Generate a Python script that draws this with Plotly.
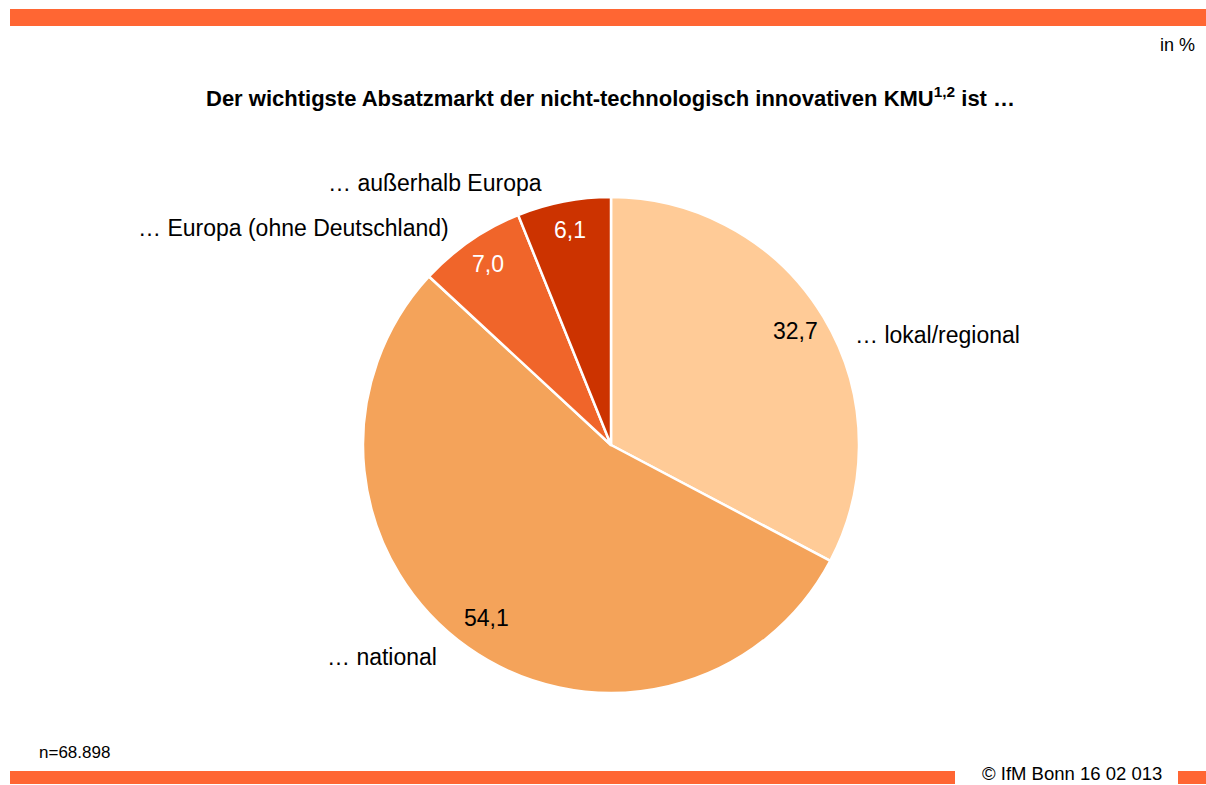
import math
import plotly.graph_objects as go

# data
labels = ['… lokal/regional', '… national', '… Europa (ohne Deutschland)', '… außerhalb Europa']
values = [32.7, 54.1, 7.0, 6.1]
value_text = ['32,7', '54,1', '7,0', '6,1']
colors = ['#FFCB97', '#F4A35A', '#F0652A', '#CC3300']
value_font_colors = ['black', 'black', 'white', 'white']

W, H = 1206, 785
cx, cy, R = 611, 445, 248   # pie centre / radius in pixels

# hand placed outside labels (pixels, anchor)
label_pos = [(853, 335, 'left'), (439, 657, 'right'), (451, 228, 'right'), (544, 183, 'right')]

font = 'Liberation Sans, Arial, sans-serif'


def note(x, y, text, size, color='black', xanchor='center'):
    fig.add_annotation(x=x / W, y=1 - y / H, xref='paper', yref='paper', text=text,
                       showarrow=False, xanchor=xanchor, yanchor='middle',
                       font=dict(size=size, color=color, family=font))


fig = go.Figure()
fig.add_trace(go.Pie(
    labels=labels,
    values=values,
    sort=False,
    direction='clockwise',
    rotation=0,
    textinfo='none',
    hoverinfo='label+value',
    marker=dict(colors=colors, line=dict(color='white', width=2.5)),
    showlegend=False,
    domain=dict(x=[(cx - R) / W, (cx + R) / W], y=[1 - (cy + R) / H, 1 - (cy - R) / H]),
))

# value labels along the mid angle of every slice
total = sum(values)
start = 0
for v, t, fc in zip(values, value_text, value_font_colors):
    mid = (start + v / 2) / total * 2 * math.pi
    start += v
    note(cx + 0.87 * R * math.sin(mid), cy - 0.87 * R * math.cos(mid) - 3, t, 23, fc)

for lab, (px, py, anchor) in zip(labels, label_pos):
    note(px, py, lab, 23, xanchor=anchor)

# header / footer
note(610, 97, '<b>Der wichtigste Absatzmarkt der nicht-technologisch innovativen KMU<sup>1,2</sup> ist …</b>', 22)
note(1197, 45, 'in %', 18, xanchor='right')
note(37, 752, 'n=68.898', 17, xanchor='left')
note(1164, 773, '© IfM Bonn 16 02 013', 18.5, xanchor='right')

bar = '#FF6633'
fig.add_shape(type='rect', xref='paper', yref='paper', x0=10 / W, x1=1, y0=1 - 26 / H, y1=1 - 9 / H,
              fillcolor=bar, line_width=0)
fig.add_shape(type='rect', xref='paper', yref='paper', x0=10 / W, x1=955 / W, y0=1 - 784 / H, y1=1 - 771 / H,
              fillcolor=bar, line_width=0)
fig.add_shape(type='rect', xref='paper', yref='paper', x0=1178 / W, x1=1, y0=1 - 784 / H, y1=1 - 771 / H,
              fillcolor=bar, line_width=0)

fig.update_layout(width=W, height=H, margin=dict(l=0, r=0, t=0, b=0),
                  paper_bgcolor='white', plot_bgcolor='white', font=dict(family=font))
# drop the default body margin so the figure sits at the window origin
fig.write_html('out.html', config={'displayModeBar': False},
               post_script="document.body.style.margin='0';document.body.style.overflow='hidden';")
